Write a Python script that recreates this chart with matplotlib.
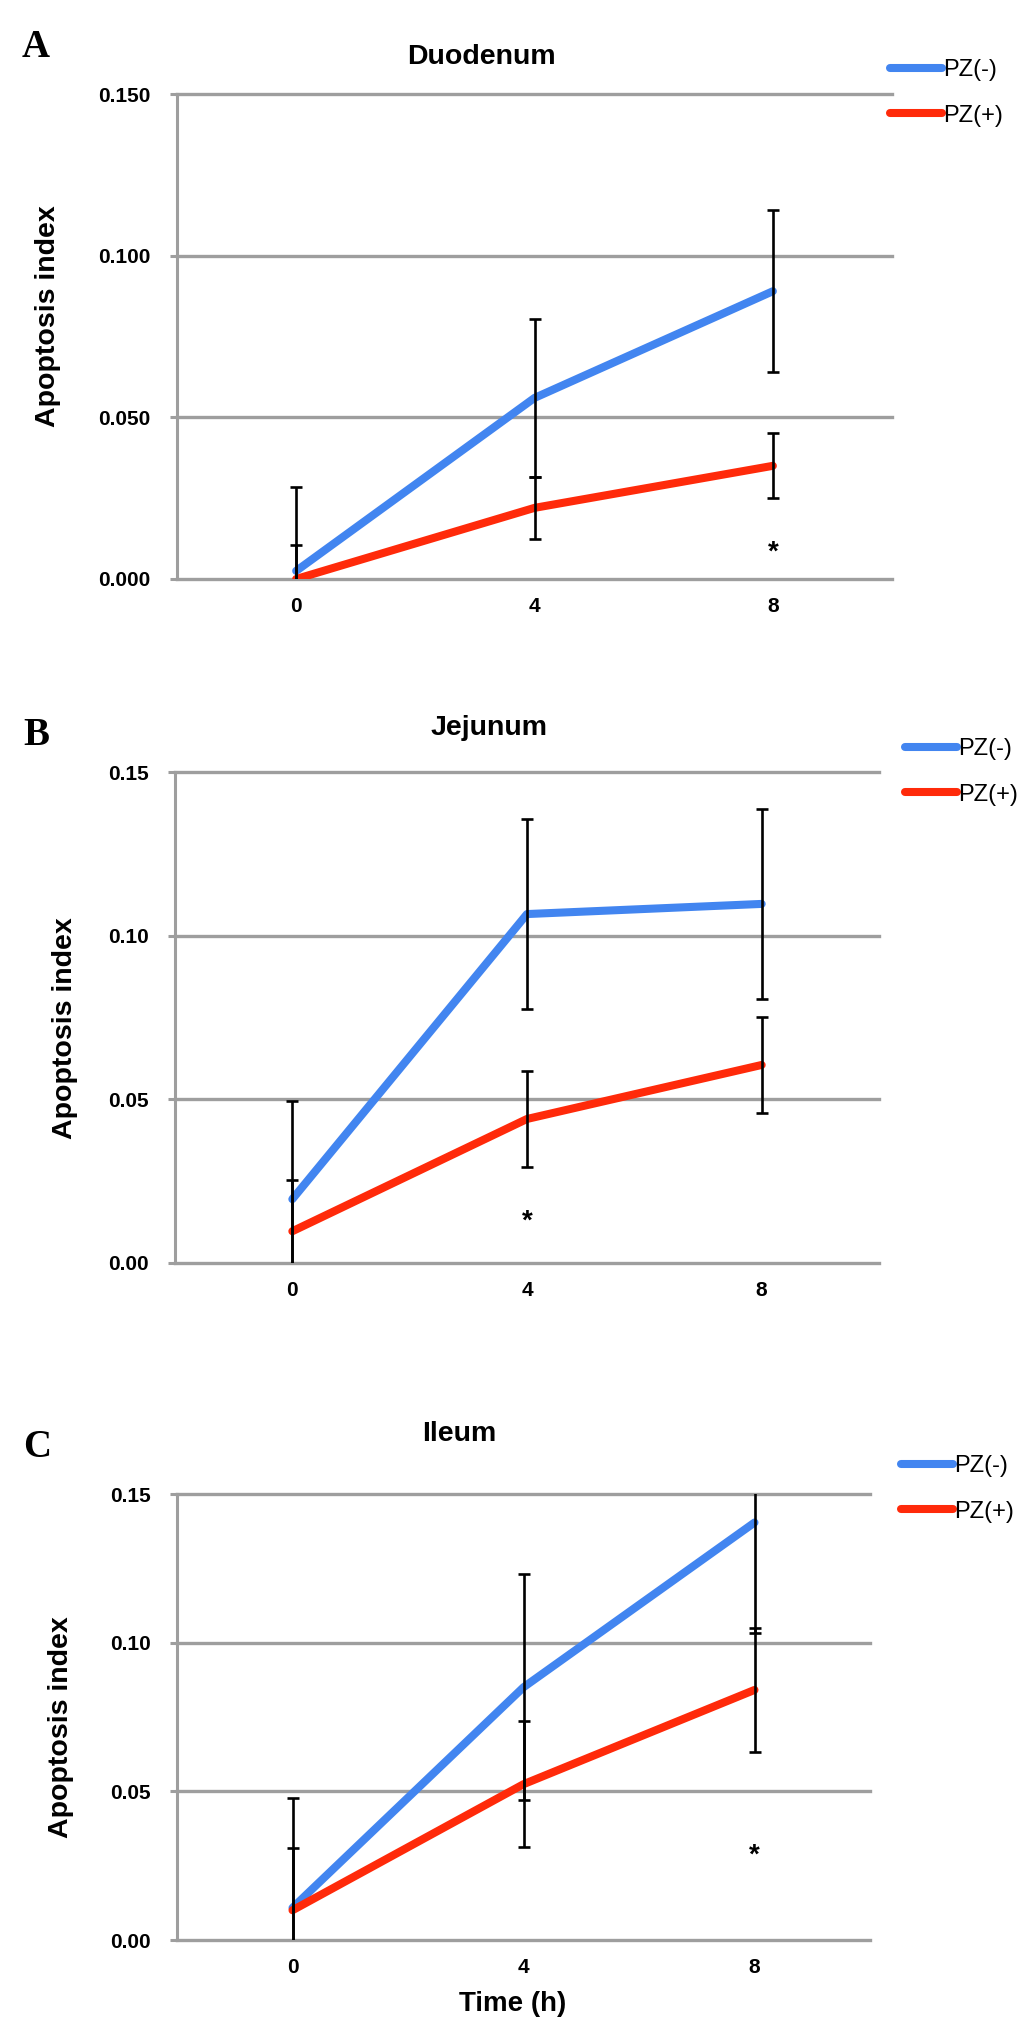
import matplotlib.pyplot as plt
import matplotlib.transforms as mtransforms
import numpy as np

time_labels = ["0", "4", "8"]
series_labels = ["PZ(-)", "PZ(+)"]

duo_neg = [0.0025, 0.056, 0.089]
duo_neg_err = [0.026, 0.0245, 0.025]
duo_pos = [0.000, 0.022, 0.035]
duo_pos_err = [0.0105, 0.0095, 0.010]

jej_neg = [0.0195, 0.1066, 0.1097]
jej_neg_err = [0.030, 0.029, 0.029]
jej_pos = [0.0097, 0.044, 0.0605]
jej_pos_err = [0.0156, 0.0148, 0.0147]

ile_neg = [0.0108, 0.085, 0.1404]
ile_neg_err = [0.037, 0.038, 0.037]
ile_pos = [0.010, 0.0524, 0.0841]
ile_pos_err = [0.021, 0.0212, 0.021]

yticks = [0.0, 0.05, 0.10, 0.15]
ylabels_a = ["0.000", "0.050", "0.100", "0.150"]
ylabels_bc = ["0.00", "0.05", "0.10", "0.15"]

# significance marks: (category index, height)
star_a = (2, 0.0102)
star_b = (1, 0.0147)
star_c = (2, 0.0307)

BLUE = "#4285f0"
RED = "#ff2a0a"
GRID = "#9e9e9e"
SANS = "Liberation Sans"
SERIF = "Liberation Serif"

W, H = 1033, 2035
fig = plt.figure(figsize=(W / 100, H / 100), dpi=100)


def px_axes(left, right, top, bottom):
    return fig.add_axes([left / W, 1 - bottom / H, (right - left) / W, (bottom - top) / H])


def panel(ax, neg, neg_err, pos, pos_err, ylabs, star, leg_xy):
    x = np.arange(len(time_labels))
    ax.plot(x, neg, color=BLUE, lw=5.8, solid_capstyle="round", label=series_labels[0], zorder=3)
    ax.plot(x, pos, color=RED, lw=5.8, solid_capstyle="round", label=series_labels[1], zorder=3)
    ax.errorbar(x, neg, yerr=neg_err, fmt="none", ecolor="black", elinewidth=1.9,
                capsize=4.5, capthick=1.9, zorder=4)
    ax.errorbar(x, pos, yerr=pos_err, fmt="none", ecolor="black", elinewidth=1.9,
                capsize=4.5, capthick=1.9, zorder=4)
    # the asterisk glyph sits high in its box, nudge it down so its centre is on the value
    star_tr = mtransforms.offset_copy(ax.transData, fig=fig, y=-7, units="dots")
    ax.text(star[0], star[1], "*", ha="center", va="center", fontsize=20,
            fontweight="bold", family=SANS, zorder=5, transform=star_tr)

    ax.set_xlim(-0.5, 2.5)
    ax.set_ylim(0, 0.15)
    ax.set_xticks(x)
    ax.set_xticklabels(time_labels, fontsize=15, fontweight="bold", family=SANS)
    ax.set_yticks(yticks)
    ax.set_yticklabels(ylabs, fontsize=15, fontweight="bold", family=SANS)
    ax.tick_params(axis="x", length=0, pad=13)
    ax.tick_params(axis="y", length=5, width=2.2, color=GRID, pad=14)
    for s in ["top", "right", "bottom"]:
        ax.spines[s].set_visible(False)
    ax.spines["left"].set_color(GRID)
    ax.spines["left"].set_linewidth(2.2)
    ax.yaxis.grid(True, color=GRID, lw=2.4)
    for gl in ax.get_ygridlines():
        gl.set_clip_on(False)
    ax.set_axisbelow(True)

    leg = ax.legend(loc="upper left", bbox_to_anchor=(leg_xy[0] / W, 1 - leg_xy[1] / H),
                    bbox_transform=fig.transFigure, frameon=False, borderpad=0,
                    borderaxespad=0, handlelength=2.2, handletextpad=0.05,
                    labelspacing=1.0, prop={"family": SANS, "size": 17})
    for line in leg.get_lines():
        line.set_linewidth(5.8)
        line.set_solid_capstyle("round")


ax_a = px_axes(177, 892, 94, 579)
panel(ax_a, duo_neg, duo_neg_err, duo_pos, duo_pos_err, ylabels_a, star_a, (890, 59))
ax_b = px_axes(175, 879, 772, 1263)
panel(ax_b, jej_neg, jej_neg_err, jej_pos, jej_pos_err, ylabels_bc, star_b, (905, 738))
ax_c = px_axes(177, 870, 1494, 1940)
panel(ax_c, ile_neg, ile_neg_err, ile_pos, ile_pos_err, ylabels_bc, star_c, (901, 1455))

# titles, axis labels, panel letters
for txt, x, y in [("Duodenum", 481, 57), ("Jejunum", 489, 728), ("Ileum", 459, 1434)]:
    fig.text(x / W, 1 - y / H, txt, ha="center", va="center", fontsize=20.5,
             fontweight="bold", family=SANS)
for x, y in [(48, 316), (65, 1028), (61, 1727)]:
    fig.text(x / W, 1 - y / H, "Apoptosis index", ha="center", va="center", rotation=90,
             fontsize=20.5, fontweight="bold", family=SANS)
for txt, x, y in [("A", 22, 57), ("B", 23, 745), ("C", 23, 1457)]:
    fig.text(x / W, 1 - y / H, txt, ha="left", va="baseline", fontsize=28,
             fontweight="bold", family=SERIF)
fig.text(513 / W, 1 - 2004 / H, "Time (h)", ha="center", va="center", fontsize=20,
         fontweight="bold", family=SANS)

fig.savefig("out.png", dpi=100)
